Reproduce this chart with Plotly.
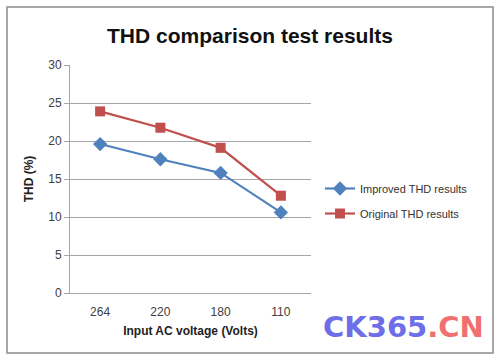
import plotly.graph_objects as go

categories = ["264", "220", "180", "110"]
improved = [19.6, 17.6, 15.8, 10.6]
original = [23.9, 21.75, 19.1, 12.8]
y_ticks = [0, 5, 10, 15, 20, 25, 30]

W, H = 500, 361
L, R, T, B = 70, 189, 65, 68
pw, ph = W - L - R, H - T - B

def px(x):
    return (x - L) / pw

def py(y):
    return (H - B - y) / ph

font = "Liberation Sans"
fig = go.Figure()
fig.add_trace(go.Scatter(x=categories, y=improved, mode="lines+markers",
                         name="Improved THD results", legendgroup="a",
                         line=dict(color="#4F81BD", width=2.2),
                         marker=dict(symbol="diamond", size=11, color="#4F81BD")))
fig.add_trace(go.Scatter(x=categories, y=original, mode="lines+markers",
                         name="Original THD results", legendgroup="b",
                         line=dict(color="#C0504D", width=2.2),
                         marker=dict(symbol="square", size=10, color="#C0504D")))

fig.update_layout(
    width=W, height=H, margin=dict(l=L, r=R, t=T, b=B),
    paper_bgcolor="white", plot_bgcolor="white",
    font=dict(family=font, color="#404040", size=12),
    title=dict(text="<b>THD comparison test results</b>", x=0.5, xanchor="center",
               y=1 - 36 / H, yanchor="middle", font=dict(size=21, color="#111111")),
    xaxis=dict(type="category", range=[-0.5, 3.5], showgrid=False, showline=True,
               linecolor="#A6A6A6", ticks="", ticklabelstandoff=8,
               title=dict(text="<b>Input AC voltage (Volts)</b>", standoff=8,
                          font=dict(size=12, color="#222222")),
               tickfont=dict(size=12, color="#404040")),
    yaxis=dict(range=[0, 30], tickvals=y_ticks, showgrid=True, gridcolor="#A6A6A6",
               gridwidth=1, showline=True, linecolor="#A6A6A6", ticks="outside",
               ticklen=5, tickcolor="#A6A6A6", zeroline=False,
               title=dict(text="<b>THD (%)</b>", standoff=12,
                          font=dict(size=12, color="#222222")),
               tickfont=dict(size=12, color="#404040")),
    legend=dict(x=px(320), y=py(174), xanchor="left", yanchor="top",
                font=dict(size=11, color="#333333"), bgcolor="rgba(0,0,0,0)",
                traceorder="grouped", tracegroupgap=6, itemwidth=30),
    showlegend=True,
)

fig.add_shape(type="rect", xref="paper", yref="paper",
              x0=px(7), x1=px(493), y0=py(353), y1=py(7),
              line=dict(color="#8C8C8C", width=1.5), fillcolor="rgba(0,0,0,0)",
              layer="below")

fig.add_annotation(xref="paper", yref="paper", x=px(486), y=py(327),
                   xanchor="right", yanchor="middle", showarrow=False,
                   text="<b><span style='color:#6E6EE8'>CK365</span><span style='color:#F07070'>.CN</span></b>",
                   font=dict(size=29, family="DejaVu Sans"))

fig.write_html("out.html", config={"displayModeBar": False},
               post_script="document.body.style.margin='0';")
